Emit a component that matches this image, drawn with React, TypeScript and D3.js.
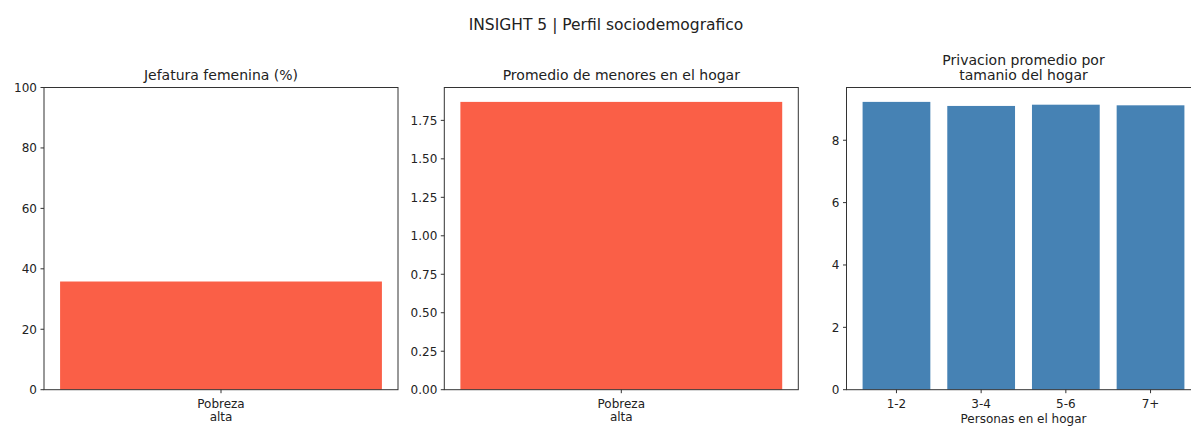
import React from 'react'
import { scaleLinear, format } from 'd3'

// data
const jefaturaCats = ['Pobreza\nalta']
const jefaturaValues = [35.8]
const menoresCats = ['Pobreza\nalta']
const menoresValues = [1.87]
const tamanioCats = ['1-2', '3-4', '5-6', '7+']
const privacionValues = [9.23, 9.1, 9.14, 9.12]

const jefaturaTicks = [0, 20, 40, 60, 80, 100]
const menoresTicks = [0, 0.25, 0.5, 0.75, 1.0, 1.25, 1.5, 1.75]
const privacionTicks = [0, 2, 4, 6, 8]

const W = 1191
const H = 426
const TOP = 87.5
const BOTTOM = 389.7
const PW = 354
const FONT = '"DejaVu Sans", sans-serif'
const AXIS = '#333'

type PanelProps = {
  left: number
  cats: string[]
  values: number[]
  yMax: number
  ticks: number[]
  fmt: (v: number) => string
  color: string
  title: string[]
  xlabel?: string
}

function Panel({ left, cats, values, yMax, ticks, fmt, color, title, xlabel }: PanelProps) {
  const n = cats.length
  const m = 0.05 * (n - 1 + 0.8)
  const x = scaleLinear().domain([-0.4 - m, n - 1 + 0.4 + m]).range([left, left + PW])
  const y = scaleLinear().domain([0, yMax]).range([BOTTOM, TOP])
  const bw = x(0.8) - x(0)
  const cx = left + PW / 2

  return (
    <g>
      {title.map((t, i) => (
        <text key={i} x={cx} y={79.5 - (title.length - 1 - i) * 15} textAnchor="middle"
          fontSize={14} fill="#222">{t}</text>
      ))}
      {values.map((v, i) => (
        <rect key={i} x={x(i) - bw / 2} y={y(v)} width={bw} height={BOTTOM - y(v)} fill={color} />
      ))}
      <rect x={left} y={TOP} width={PW} height={BOTTOM - TOP} fill="none" stroke={AXIS} strokeWidth={1} />
      {ticks.map(t => (
        <g key={t}>
          <line x1={left - 3.5} x2={left} y1={y(t)} y2={y(t)} stroke={AXIS} />
          <text x={left - 7} y={y(t)} dy="0.36em" textAnchor="end" fontSize={12} fill="#222">{fmt(t)}</text>
        </g>
      ))}
      {cats.map((c, i) => (
        <g key={c}>
          <line x1={x(i)} x2={x(i)} y1={BOTTOM} y2={BOTTOM + 3.5} stroke={AXIS} />
          <text x={x(i)} y={408} textAnchor="middle" fontSize={12} fill="#222">
            {c.split('\n').map((s, k) => (
              <tspan key={k} x={x(i)} dy={k === 0 ? 0 : 12.8}>{s}</tspan>
            ))}
          </text>
        </g>
      ))}
      {xlabel && (
        <text x={cx} y={422.6} textAnchor="middle" fontSize={12} fill="#222">{xlabel}</text>
      )}
    </g>
  )
}

export default function App() {
  const menMax = Math.max(...menoresValues) * 1.05
  const privMax = Math.max(...privacionValues) * 1.05
  return (
    <svg width={W} height={H} style={{ position: 'absolute', left: 0, top: 0, background: '#fff' }}
      fontFamily={FONT}>
      <text x={606} y={30} textAnchor="middle" fontSize={15.5} fill="#222">INSIGHT 5 | Perfil sociodemografico</text>
      <Panel left={44} cats={jefaturaCats} values={jefaturaValues} yMax={100} ticks={jefaturaTicks}
        fmt={format('d')} color="#fa5f47" title={['Jefatura femenina (%)']} />
      <Panel left={444.3} cats={menoresCats} values={menoresValues} yMax={menMax} ticks={menoresTicks}
        fmt={format('.2f')} color="#fa5f47" title={['Promedio de menores en el hogar']} />
      <Panel left={846.5} cats={tamanioCats} values={privacionValues} yMax={privMax} ticks={privacionTicks}
        fmt={format('d')} color="#4682b4" title={['Privacion promedio por', 'tamanio del hogar']}
        xlabel="Personas en el hogar" />
    </svg>
  )
}
